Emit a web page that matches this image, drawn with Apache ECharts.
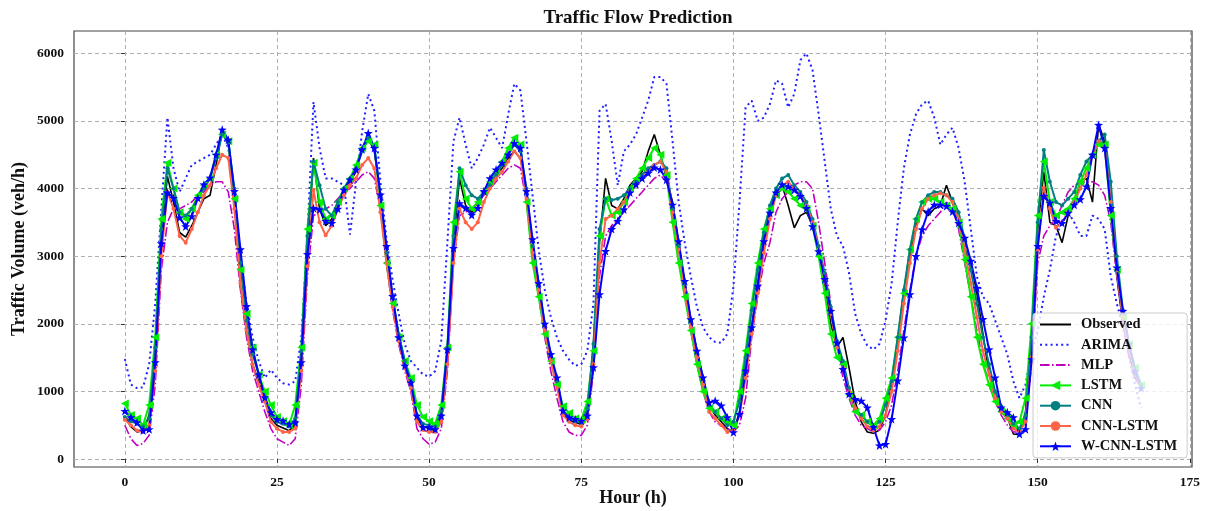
<!DOCTYPE html>
<html>
<head>
<meta charset="utf-8">
<script src="https://cdn.jsdelivr.net/npm/echarts@6/dist/echarts.min.js"></script>
<style>
  html, body { margin: 0; padding: 0; background: #fff; }
  #chart { width: 1205px; height: 511px; }
</style>
</head>
<body>
<div id="chart"></div>
<script>
// hourly index 0..167
const hours = Array.from({ length: 168 }, (_, i) => i);

const xTicks = [0, 25, 50, 75, 100, 125, 150, 175];
const yTicks = [0, 1000, 2000, 3000, 4000, 5000, 6000];

const observed = [
  620, 480, 400, 420, 650, 1500, 3300, 4180, 3800, 3350, 3280, 3450, 3650, 3850, 3900, 4350, 4850, 4650, 3900, 2550, 1900, 1400, 1150, 900,
  600, 500, 460, 420, 500, 1450, 3100, 4450, 3700, 3450, 3550, 3750, 3950, 4100, 4250, 4600, 4750, 4550, 3900, 3050, 2350, 1850, 1450, 1150,
  600, 480, 450, 420, 650, 1600, 3200, 4150, 3750, 3650, 3800, 3950, 4050, 4200, 4300, 4450, 4550, 4450, 3950, 3100, 2600, 1950, 1500, 1100,
  700, 580, 540, 520, 700, 1700, 3200, 4150, 3750, 3700, 3850, 4050, 4150, 4250, 4550, 4800, 4500, 4150, 3800, 3200, 2600, 2050, 1600, 1150,
  800, 650, 550, 450, 400, 700, 1300, 1950, 2600, 3250, 3650, 3950, 4050, 3750, 3420, 3600, 3650, 3450, 3150, 2600, 2000, 1650, 1800, 1350,
  850, 550, 400, 380, 430, 650, 1100, 1750, 2500, 3000, 3450, 3700, 3600, 3700, 3750, 4050, 3800, 3450, 3100, 2900, 2450, 1850, 1250, 1000,
  780, 620, 370, 360, 700, 1850, 3400, 4250, 3500, 3450, 3200, 3600, 3750, 4100, 4150, 3800, 4950, 4700, 3800, 2700, 2000, 1550, 1200, 1050
];

const arima = [
  1480, 1100, 1050, 1060, 1400, 2300, 3700, 5050, 4300, 3950, 4150, 4350, 4400, 4450, 4500, 4650, 4800, 4600, 3950, 3000, 2300, 1800, 1450, 1200,
  1320, 1200, 1120, 1100, 1150, 1800, 3300, 5280, 4600, 4150, 4150, 4100, 4050, 3320, 4100, 4850, 5400, 5150, 4100, 3250, 2650, 2150, 1700, 1450,
  1350, 1250, 1220, 1300, 1750, 3200, 4700, 5050, 4650, 4300, 4450, 4650, 4900, 4750, 4600, 5100, 5550, 5450, 4700, 3900, 3100, 2500, 2100, 1800,
  1600, 1470, 1380, 1400, 1600, 2300, 5150, 5250, 4700, 4050, 4550, 4650, 4800, 5050, 5300, 5650, 5650, 5550, 4700, 3800, 3200, 2700, 2250, 1950,
  1800, 1730, 1720, 1850, 2550, 3800, 5200, 5300, 5000, 5050, 5250, 5600, 5550, 5200, 5400, 5900, 6000, 5750, 5100, 4400, 3700, 3300, 3150, 2750,
  2150, 1850, 1680, 1620, 1700, 2050, 2600, 3500, 4300, 4800, 5100, 5250, 5300, 5050, 4650, 4800, 4900, 4600, 4100, 3400, 2700, 2400, 2300, 2050,
  1800, 1550, 1150, 900, 1100, 1600, 1900, 2400, 2800, 3300, 3500, 3650, 3500, 3300, 3300, 3600, 3550, 3400, 2700, 2300, 1950, 1500, 1100, 750
];

const mlp = [
  500, 300, 200, 230, 350, 1100, 2800, 3500, 3700, 3700, 3750, 3800, 3900, 3950, 4050, 4100, 4100, 3950, 3400, 2500, 1800, 1300, 1000, 700,
  450, 300, 250, 200, 300, 1100, 2700, 3600, 3650, 3700, 3750, 3850, 3950, 4000, 4100, 4200, 4250, 4150, 3700, 2900, 2200, 1700, 1300, 1000,
  450, 300, 220, 250, 450, 1300, 2900, 3600, 3650, 3700, 3800, 3900, 4000, 4100, 4200, 4300, 4350, 4300, 3800, 3000, 2400, 1800, 1300, 900,
  550, 400, 350, 350, 500, 1300, 2700, 3300, 3450, 3550, 3650, 3750, 3850, 3950, 4050, 4150, 4200, 4100, 3700, 3100, 2500, 1900, 1400, 1000,
  700, 550, 500, 450, 400, 500, 900, 1800, 2400, 2900, 3200, 3650, 3850, 3950, 4050, 4100, 4100, 4000, 3500, 2900, 2300, 1700, 1200, 900,
  650, 500, 450, 400, 430, 550, 800, 1300, 1900, 2500, 3000, 3300, 3450, 3550, 3650, 3800, 3700, 3400, 2900, 2400, 1900, 1450, 1100, 850,
  650, 500, 400, 400, 600, 1400, 2900, 3300, 3450, 3550, 3750, 3950, 4050, 4080, 4100, 4100, 4050, 3900, 3500, 2700, 2000, 1500, 1200, 1050
];

const lstm = [
  820, 650, 600, 500, 800, 1800, 3550, 4380, 4000, 3650, 3550, 3700, 3900, 4050, 4150, 4500, 4800, 4700, 3850, 2800, 2150, 1650, 1250, 1000,
  800, 620, 560, 500, 800, 1650, 3400, 4380, 3800, 3550, 3600, 3800, 4000, 4150, 4350, 4600, 4700, 4650, 3750, 2900, 2300, 1800, 1450, 1200,
  800, 620, 560, 520, 800, 1650, 3500, 4250, 3850, 3700, 3800, 3950, 4100, 4250, 4400, 4600, 4750, 4650, 3800, 2900, 2400, 1850, 1450, 1100,
  780, 680, 600, 580, 850, 1600, 3300, 3850, 3600, 3650, 3800, 4000, 4150, 4300, 4450, 4600, 4500, 4200, 3500, 2900, 2400, 1900, 1400, 1000,
  750, 700, 600, 550, 500, 1000, 1600, 2300, 2900, 3400, 3700, 3900, 4000, 3950, 3850, 3750, 3700, 3450, 3000, 2450, 1850, 1500, 1400, 950,
  700, 650, 550, 500, 600, 900, 1200, 1800, 2450, 3100, 3550, 3800, 3850, 3850, 3800, 3750, 3700, 3500, 2950, 2400, 1800, 1400, 1100, 850,
  700, 600, 500, 550, 900, 2000, 3600, 4400, 3800, 3600, 3650, 3700, 3850, 4100, 4300, 4500, 4650, 4650, 3600, 2800, 2100, 1700, 1350, 1100
];

const cnn = [
  620, 560, 520, 480, 600, 1650, 3400, 4300, 4000, 3650, 3600, 3700, 3850, 4000, 4150, 4450, 4800, 4700, 4000, 2900, 2050, 1550, 1250, 900,
  650, 550, 520, 480, 600, 1600, 3300, 4400, 4050, 3700, 3600, 3800, 4000, 4150, 4300, 4550, 4750, 4600, 3900, 3050, 2400, 1850, 1450, 1150,
  650, 520, 500, 480, 700, 1650, 3300, 4300, 4050, 3900, 3850, 3950, 4050, 4200, 4350, 4500, 4650, 4550, 4000, 3150, 2600, 2000, 1550, 1150,
  700, 600, 560, 540, 750, 1700, 3400, 3850, 3830, 3850, 3900, 4000, 4100, 4200, 4300, 4350, 4400, 4300, 3700, 3150, 2600, 2050, 1600, 1200,
  800, 700, 600, 500, 550, 850, 1500, 2200, 2800, 3350, 3750, 4000, 4150, 4200, 4050, 3950, 3800, 3550, 3150, 2750, 2250, 1750, 1450, 1050,
  750, 650, 550, 480, 550, 800, 1150, 1800, 2500, 3100, 3550, 3800, 3900, 3950, 3950, 3900, 3850, 3650, 3250, 2800, 2300, 1800, 1400, 1000,
  780, 650, 520, 450, 650, 1800, 3500, 4570, 4100, 3800, 3750, 3850, 3950, 4200, 4400, 4500, 4700, 4800, 4100, 3000, 2200, 1700, 1350, 1100
];

const cnnLstm = [
  580, 500, 420, 400, 500, 1300, 3000, 3950, 3700, 3300, 3200, 3400, 3650, 3900, 4050, 4300, 4500, 4450, 3700, 2600, 1900, 1400, 1100, 850,
  550, 450, 400, 400, 450, 1300, 2850, 3980, 3500, 3310, 3450, 3700, 3900, 4050, 4150, 4350, 4450, 4300, 3650, 2900, 2250, 1750, 1350, 1050,
  550, 430, 400, 400, 550, 1400, 2900, 3700, 3500, 3400, 3500, 3800, 4000, 4150, 4250, 4400, 4550, 4450, 3850, 3050, 2500, 1900, 1450, 1050,
  650, 550, 500, 480, 600, 1400, 2900, 3550, 3600, 3700, 3800, 3950, 4050, 4150, 4250, 4350, 4400, 4250, 3650, 3100, 2500, 1950, 1500, 1100,
  700, 600, 500, 400, 420, 650, 1200, 1850, 2450, 3050, 3550, 3900, 4050, 4100, 4000, 3900, 3750, 3500, 3100, 2650, 2150, 1650, 1350, 1000,
  750, 600, 480, 420, 480, 650, 1000, 1600, 2300, 2900, 3400, 3700, 3850, 3900, 3930, 3900, 3800, 3550, 3100, 2600, 2100, 1600, 1250, 900,
  700, 600, 450, 400, 550, 1500, 3100, 4010, 3700, 3420, 3500, 3650, 3800, 4000, 4200, 4500, 4700, 4600, 3800, 2800, 2100, 1650, 1300, 1050
];

const wCnnLstm = [
  710, 615, 540, 420, 440, 1430, 3190, 3940, 3860, 3570, 3440, 3590, 3860, 4060, 4160, 4500, 4870, 4720, 3960, 3100, 2260, 1620, 1250, 910,
  690, 590, 565, 515, 540, 1430, 3030, 3710, 3690, 3520, 3490, 3700, 3980, 4130, 4280, 4580, 4820, 4600, 3910, 3150, 2410, 1800, 1380, 1130,
  640, 470, 470, 440, 640, 1620, 3120, 3780, 3710, 3610, 3710, 3960, 4150, 4280, 4380, 4500, 4670, 4600, 3960, 3250, 2600, 2000, 1550, 1205,
  715, 615, 590, 565, 640, 1355, 2435, 3075, 3400, 3520, 3690, 3940, 4060, 4150, 4230, 4310, 4280, 4130, 3760, 3220, 2630, 2065, 1600, 1205,
  835, 860, 790, 615, 395, 665, 1305, 1945, 2560, 3220, 3640, 3940, 4060, 4030, 3980, 3890, 3710, 3440, 3070, 2660, 2190, 1720, 1330, 960,
  885, 860, 760, 470, 200, 220, 590, 1160, 1795, 2435, 3000, 3395, 3660, 3760, 3760, 3740, 3660, 3490, 3270, 2930, 2530, 2070, 1620, 1205,
  760, 690, 615, 370, 440, 1475, 3150, 3890, 3790, 3520, 3490, 3640, 3760, 3840, 4030, 4500, 4940, 4600, 3710, 2830, 2190, 1700, 1300, 1050
];

const SERIF = "'Liberation Serif', 'DejaVu Serif', 'Times New Roman', serif";
const STAR = 'path://M0,-10 L2.35,-3.24 9.51,-3.09 3.8,1.24 5.88,8.09 0,4 -5.88,8.09 -3.8,1.24 -9.51,-3.09 -2.35,-3.24 Z';

const pairs = (vals) => hours.map((h, i) => [h, vals[i]]);

const chart = echarts.init(document.getElementById('chart'), null, { renderer: 'canvas' });

const gridLine = { show: true, lineStyle: { color: '#b0b0b0', type: [4, 3], width: 1 } };
const tickLabel = { color: '#111', fontFamily: SERIF, fontWeight: 'bold', fontSize: 13.5 };

chart.setOption({
  animation: false,
  backgroundColor: '#fff',
  title: {
    text: 'Traffic Flow Prediction',
    left: 633,
    top: 4,
    textAlign: 'center',
    textStyle: { fontFamily: SERIF, fontWeight: 'bold', fontSize: 19, color: '#111' }
  },
  grid: {
    left: 74, right: 13, top: 31, bottom: 44,
    outerBoundsMode: 'none',
    containLabel: false,
    show: true, borderColor: '#444', borderWidth: 1.2, backgroundColor: 'transparent'
  },
  legend: {
    orient: 'vertical',
    left: 1033,
    top: 313,
    padding: [4, 10, 4, 6],
    itemWidth: 31,
    itemHeight: 12,
    itemGap: 5.3,
    backgroundColor: 'rgba(255,255,255,0.8)',
    borderColor: '#cccccc',
    borderWidth: 1,
    borderRadius: 3,
    textStyle: { fontFamily: SERIF, fontWeight: 'bold', fontSize: 14.5, lineHeight: 14, color: '#111', padding: [0, 0, 0, 5] },
    data: ['Observed', 'ARIMA', 'MLP', 'LSTM', 'CNN', 'CNN-LSTM', 'W-CNN-LSTM']
  },
  xAxis: {
    type: 'value',
    min: -8.35,
    max: 175.35,
    name: 'Hour (h)',
    nameLocation: 'middle',
    nameGap: 22,
    nameMoveOverlap: false,
    nameTextStyle: { fontFamily: SERIF, fontWeight: 'bold', fontSize: 18, color: '#111' },
    axisLine: { show: false },
    axisTick: { show: true, customValues: xTicks, length: 4, lineStyle: { color: '#333' } },
    axisLabel: Object.assign({ customValues: xTicks, margin: 9 }, tickLabel),
    splitLine: gridLine
  },
  yAxis: {
    type: 'value',
    min: -118,
    max: 6330,
    name: 'Traffic Volume (veh/h)',
    nameLocation: 'middle',
    nameRotate: 90,
    nameGap: 46,
    nameMoveOverlap: false,
    nameTextStyle: { fontFamily: SERIF, fontWeight: 'bold', fontSize: 18, color: '#111' },
    axisLine: { show: false },
    axisTick: { show: true, customValues: yTicks, length: 4, lineStyle: { color: '#333' } },
    axisLabel: Object.assign({ customValues: yTicks, margin: 10, formatter: (v) => String(v) }, tickLabel),
    splitLine: gridLine
  },
  series: [
    {
      name: 'Observed', type: 'line', data: pairs(observed),
      showSymbol: false, symbol: 'none',
      lineStyle: { color: '#000', width: 1.6 }, itemStyle: { color: '#000', opacity: 0 }
    },
    {
      name: 'ARIMA', type: 'line', data: pairs(arima),
      showSymbol: false, symbol: 'none',
      lineStyle: { color: '#1f1fff', width: 2, type: [2, 3.3] }, itemStyle: { color: '#1f1fff', opacity: 0 }
    },
    {
      name: 'MLP', type: 'line', data: pairs(mlp),
      showSymbol: false, symbol: 'none',
      lineStyle: { color: '#c000c0', width: 1.6, type: [9.6, 2.4, 1.6, 2.4] }, itemStyle: { color: '#c000c0', opacity: 0 }
    },
    {
      name: 'LSTM', type: 'line', data: pairs(lstm),
      symbol: 'triangle', symbolRotate: 90, symbolSize: 8,
      lineStyle: { color: '#00ee00', width: 2 }, itemStyle: { color: '#00ee00' }
    },
    {
      name: 'CNN', type: 'line', data: pairs(cnn),
      symbol: 'circle', symbolSize: 4,
      lineStyle: { color: '#008080', width: 2 }, itemStyle: { color: '#008080' }
    },
    {
      name: 'CNN-LSTM', type: 'line', data: pairs(cnnLstm),
      symbol: 'circle', symbolSize: 4,
      lineStyle: { color: '#ff6347', width: 2 }, itemStyle: { color: '#ff6347' }
    },
    {
      name: 'W-CNN-LSTM', type: 'line', data: pairs(wCnnLstm),
      symbol: STAR, symbolSize: 9,
      lineStyle: { color: '#0000ff', width: 2 }, itemStyle: { color: '#0000ff' }
    }
  ]
});
</script>
</body>
</html>
